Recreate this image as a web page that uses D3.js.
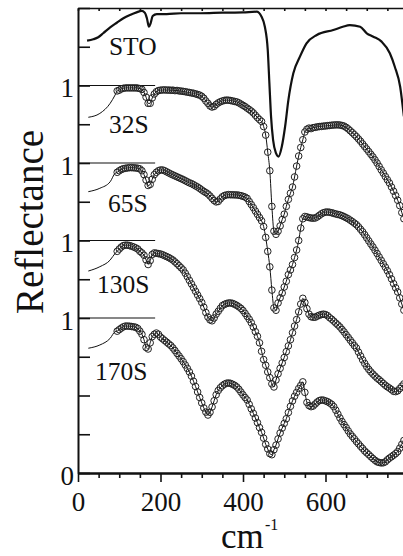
<!DOCTYPE html>
<html>
<head>
<meta charset="utf-8">
<script src="https://cdn.jsdelivr.net/npm/d3@7"></script>
<style>
  body { margin: 0; background: #fff; }
</style>
</head>
<body>
<svg width="403" height="556"></svg>
<script>
// sampled spectra: reflectance every 5 cm-1 from 95 to 790
const waveStart = 95;
const waveStep = 5;

const r32S = [
  0.965, 0.97, 0.978, 0.982, 0.984, 0.985, 0.984, 0.985, 0.984, 0.985,
  0.983, 0.98, 0.975, 0.955, 0.925, 0.885, 0.885, 0.92, 0.945, 0.96,
  0.967, 0.97, 0.971, 0.972, 0.97, 0.971, 0.969, 0.97, 0.967, 0.968,
  0.965, 0.964, 0.962, 0.96, 0.957, 0.955, 0.952, 0.95, 0.946, 0.942,
  0.938, 0.93, 0.918, 0.9, 0.885, 0.868, 0.861, 0.865, 0.878, 0.888,
  0.895, 0.9, 0.904, 0.906, 0.905, 0.903, 0.9, 0.897, 0.894, 0.888,
  0.88, 0.872, 0.864, 0.854, 0.845, 0.835, 0.823, 0.808, 0.793, 0.78,
  0.768, 0.735, 0.68, 0.57, 0.45, 0.22, 0.06, 0.04, 0.06, 0.094,
  0.135, 0.17, 0.22, 0.265, 0.305, 0.345, 0.41, 0.48, 0.545, 0.6,
  0.65, 0.7, 0.718, 0.725, 0.722, 0.728, 0.73, 0.733, 0.735, 0.736,
  0.738, 0.739, 0.741, 0.742, 0.744, 0.745, 0.746, 0.746, 0.745, 0.742,
  0.738, 0.73, 0.72, 0.708, 0.696, 0.683, 0.67, 0.655, 0.64, 0.623,
  0.606, 0.59, 0.573, 0.556, 0.539, 0.52, 0.5, 0.478, 0.456, 0.435,
  0.413, 0.392, 0.371, 0.345, 0.318, 0.29, 0.26, 0.225, 0.18, 0.14
];

const r65S = [
  0.94, 0.95, 0.958, 0.963, 0.966, 0.968, 0.97, 0.97, 0.969, 0.968,
  0.966, 0.962, 0.95, 0.925, 0.89, 0.855, 0.862, 0.895, 0.925, 0.94,
  0.95, 0.955, 0.955, 0.95, 0.943, 0.936, 0.929, 0.923, 0.917, 0.911,
  0.905, 0.899, 0.893, 0.886, 0.879, 0.872, 0.867, 0.86, 0.852, 0.845,
  0.836, 0.826, 0.817, 0.809, 0.8, 0.787, 0.772, 0.758, 0.749, 0.752,
  0.768, 0.782, 0.79, 0.794, 0.796, 0.795, 0.795, 0.794, 0.794, 0.792,
  0.789, 0.785, 0.78, 0.772, 0.752, 0.732, 0.712, 0.69, 0.669, 0.648,
  0.627, 0.59, 0.52, 0.43, 0.33, 0.18, 0.065, 0.05, 0.097, 0.13,
  0.161, 0.2, 0.237, 0.28, 0.31, 0.345, 0.39, 0.439, 0.5, 0.58,
  0.64, 0.655, 0.652, 0.648, 0.645, 0.644, 0.645, 0.652, 0.662, 0.672,
  0.679, 0.683, 0.684, 0.682, 0.679, 0.675, 0.671, 0.668, 0.665, 0.66,
  0.654, 0.647, 0.64, 0.631, 0.622, 0.612, 0.602, 0.588, 0.572, 0.556,
  0.537, 0.517, 0.497, 0.477, 0.458, 0.437, 0.416, 0.394, 0.372, 0.35,
  0.328, 0.305, 0.28, 0.252, 0.222, 0.195, 0.168, 0.13, 0.09, 0.05
];

const r130S = [
  0.93, 0.945, 0.958, 0.967, 0.97, 0.97, 0.967, 0.963, 0.958, 0.952,
  0.945, 0.93, 0.92, 0.905, 0.875, 0.845, 0.87, 0.91, 0.92, 0.918,
  0.915, 0.913, 0.908, 0.902, 0.896, 0.89, 0.882, 0.874, 0.862, 0.85,
  0.837, 0.824, 0.81, 0.789, 0.767, 0.743, 0.72, 0.696, 0.672, 0.648,
  0.625, 0.6, 0.57, 0.535, 0.506, 0.488, 0.482, 0.5, 0.525, 0.543,
  0.562, 0.58, 0.588, 0.593, 0.597, 0.597, 0.594, 0.588, 0.581, 0.572,
  0.562, 0.548, 0.53, 0.511, 0.492, 0.47, 0.442, 0.412, 0.382, 0.34,
  0.285, 0.232, 0.195, 0.152, 0.115, 0.075, 0.055, 0.1, 0.14, 0.175,
  0.21, 0.245, 0.283, 0.32, 0.36, 0.405, 0.448, 0.49, 0.54, 0.59,
  0.627, 0.6, 0.56, 0.525, 0.508, 0.505, 0.505, 0.512, 0.518, 0.522,
  0.525, 0.522, 0.515, 0.502, 0.492, 0.48, 0.467, 0.455, 0.442, 0.426,
  0.41, 0.392, 0.375, 0.357, 0.34, 0.322, 0.306, 0.28, 0.255, 0.23,
  0.207, 0.186, 0.168, 0.152, 0.138, 0.125, 0.112, 0.102, 0.09, 0.078,
  0.066, 0.056, 0.048, 0.038, 0.027, 0.025, 0.03, 0.045, 0.06, 0.075
];

const r170S = [
  0.915, 0.925, 0.935, 0.943, 0.948, 0.948, 0.947, 0.945, 0.943, 0.94,
  0.932, 0.915, 0.895, 0.86, 0.81, 0.8, 0.84, 0.88, 0.895, 0.903,
  0.895, 0.877, 0.866, 0.855, 0.844, 0.833, 0.822, 0.807, 0.79, 0.772,
  0.755, 0.737, 0.718, 0.697, 0.675, 0.652, 0.625, 0.592, 0.558, 0.523,
  0.487, 0.452, 0.42, 0.393, 0.374, 0.392, 0.426, 0.466, 0.505, 0.532,
  0.55, 0.563, 0.573, 0.579, 0.581, 0.578, 0.572, 0.565, 0.555, 0.54,
  0.522, 0.504, 0.487, 0.471, 0.443, 0.414, 0.385, 0.355, 0.325, 0.293,
  0.262, 0.225, 0.185, 0.155, 0.125, 0.118, 0.15, 0.18, 0.22, 0.258,
  0.29, 0.32, 0.35, 0.39, 0.43, 0.465, 0.495, 0.52, 0.545, 0.565,
  0.588, 0.52, 0.455, 0.435, 0.428, 0.432, 0.445, 0.458, 0.467, 0.471,
  0.47, 0.465, 0.46, 0.452, 0.443, 0.428, 0.405, 0.38, 0.355, 0.332,
  0.312, 0.293, 0.272, 0.252, 0.236, 0.22, 0.203, 0.188, 0.172, 0.158,
  0.142, 0.13, 0.118, 0.105, 0.093, 0.082, 0.072, 0.068, 0.065, 0.066,
  0.072, 0.085, 0.096, 0.105, 0.115, 0.125, 0.138, 0.16, 0.185, 0.21
];

// low-frequency part of the fitted curves (no data points there)
const fitLowWave = [25, 53, 78, 90];
const fit32S = [0.795, 0.82, 0.885, 0.939];
const fit65S = [0.815, 0.837, 0.879, 0.934];
const fit130S = [0.803, 0.831, 0.874, 0.917];
const fit170S = [0.805, 0.826, 0.869, 0.912];

// STO substrate, solid curve
const stoWave = [22, 37, 49, 61, 78, 94, 110, 126, 142, 154, 162, 167, 172, 176, 181, 191,
  215, 250, 296, 350, 400, 433, 445, 453, 460, 464, 468, 473, 480, 486, 494, 502, 510,
  522, 538, 554, 579, 619, 642, 659, 684, 700, 716, 736, 756, 768, 781, 790];
const stoR = [0.789, 0.798, 0.811, 0.837, 0.875, 0.905, 0.934, 0.955, 0.972, 0.981, 0.97, 0.934,
  0.879, 0.901, 0.948, 0.961, 0.961, 0.966, 0.966, 0.97, 0.972, 0.976, 0.944, 0.879, 0.729,
  0.514, 0.299, 0.148, 0.063, 0.041, 0.105, 0.234, 0.406, 0.579, 0.686, 0.772, 0.826, 0.858,
  0.879, 0.89, 0.879, 0.837, 0.815, 0.783, 0.708, 0.621, 0.492, 0.3];

const sampleNames = ["STO", "32S", "65S", "130S", "170S"];
const sampleOffsets = [2.0, 1.5, 1.0, 0.5, 0];

const yTicks = [0, 0.25, 0.5, 0.75, 1, 1.25, 1.5, 1.75, 2, 2.25, 2.5, 2.75, 3];
const yLabelValues = [0, 1, 1.5, 2, 2.5];
const yLabelText = ["0", "1", "1", "1", "1"];
const xMajorTicks = [0, 200, 400, 600];
const xMinorTicks = [50, 100, 150, 250, 300, 350, 450, 500, 550, 650, 700, 750];
const xAllTicks = [0, 50, 100, 150, 200, 250, 300, 350, 400, 450, 500, 550, 600, 650, 700, 750, 800];

const FONT = "'Liberation Serif', 'Times New Roman', Times, serif";

const svg = d3.select("svg").attr("font-family", FONT);
const plotLeft = 78, plotRight = 408, plotTop = 8, plotBottom = 473;

const x = d3.scaleLinear().domain([0, 800]).range([plotLeft, plotRight]);
const y = d3.scaleLinear().domain([0, 3]).range([plotBottom, plotTop]);

svg.append("clipPath").attr("id", "plot")
  .append("rect").attr("x", plotLeft).attr("y", plotTop)
  .attr("width", plotRight - plotLeft).attr("height", plotBottom - plotTop);

const plot = svg.append("g").attr("clip-path", "url(#plot)");

// reference lines at R = 1 of each offset film
[1.5, 1.0, 0.5, 0].forEach(off => {
  plot.append("line")
    .attr("x1", x(0)).attr("x2", x(187))
    .attr("y1", y(off + 1)).attr("y2", y(off + 1))
    .attr("stroke", "#111").attr("stroke-width", 1.2);
});

const line = d3.line().x(d => x(d[0])).y(d => y(d[1])).curve(d3.curveMonotoneX);

// STO
plot.append("path")
  .datum(stoWave.map((w, i) => [w, stoR[i] + sampleOffsets[0]]))
  .attr("d", line)
  .attr("fill", "none")
  .attr("stroke", "#111")
  .attr("stroke-width", 2.2)
  .attr("stroke-linejoin", "round");

// films: fit line + open circles
const films = [
  { vals: r32S, fit: fit32S, off: sampleOffsets[1] },
  { vals: r65S, fit: fit65S, off: sampleOffsets[2] },
  { vals: r130S, fit: fit130S, off: sampleOffsets[3] },
  { vals: r170S, fit: fit170S, off: sampleOffsets[4] }
];

films.forEach(f => {
  const pts = f.vals.map((v, i) => [waveStart + i * waveStep, v + f.off]);
  const fitPts = fitLowWave.map((w, i) => [w, f.fit[i] + f.off]).concat(pts);

  plot.append("path")
    .datum(fitPts)
    .attr("d", line)
    .attr("fill", "none")
    .attr("stroke", "#111")
    .attr("stroke-width", 1);

  plot.append("g").selectAll("circle")
    .data(pts)
    .enter()
    .append("circle")
    .attr("cx", d => x(d[0]))
    .attr("cy", d => y(d[1]))
    .attr("r", 3.3)
    .attr("fill", "none")
    .attr("stroke", "#222")
    .attr("stroke-width", 1);
});

// axes
const styleAxis = (g, w) => {
  g.attr("font-family", FONT);
  g.select(".domain").attr("stroke", "#111").attr("stroke-width", w);
  g.selectAll(".tick line").attr("stroke", "#111").attr("stroke-width", 1.6);
  g.selectAll("text").attr("fill", "#111").attr("font-family", FONT);
};

svg.append("g")
  .attr("transform", `translate(0,${plotTop})`)
  .call(d3.axisTop(x).tickValues(xAllTicks).tickSize(-3).tickSizeOuter(0).tickFormat(""))
  .call(g => styleAxis(g, 1.5));

svg.append("g")
  .attr("transform", `translate(0,${plotBottom})`)
  .call(d3.axisBottom(x).tickValues(xMinorTicks).tickSize(5).tickSizeOuter(0).tickFormat(""))
  .call(g => styleAxis(g, 2));

svg.append("g")
  .attr("transform", `translate(0,${plotBottom})`)
  .call(d3.axisBottom(x).tickValues(xMajorTicks).tickSize(9).tickSizeOuter(0).tickPadding(10))
  .call(g => styleAxis(g, 2))
  .call(g => g.selectAll("text").attr("font-size", 27));

svg.append("g")
  .attr("transform", `translate(${plotLeft},0)`)
  .call(d3.axisLeft(y).tickValues(yTicks).tickSize(-12).tickSizeOuter(0).tickPadding(4)
    .tickFormat(d => {
      const k = yLabelValues.indexOf(d);
      return k < 0 ? "" : yLabelText[k];
    }))
  .call(g => styleAxis(g, 2))
  .call(g => g.selectAll("text").attr("font-size", 27).attr("dy", "0.42em"));

// sample labels
const labelWave = [75, 75, 73, 46, 41];
const labelPos = [2.697, 2.194, 1.684, 1.161, 0.6];
svg.append("g").selectAll("text")
  .data(sampleNames)
  .enter()
  .append("text")
  .attr("x", (d, i) => x(labelWave[i]))
  .attr("y", (d, i) => y(labelPos[i]))
  .attr("font-family", FONT)
  .attr("font-size", 25.5)
  .attr("fill", "#111")
  .text(d => d);

// axis titles
svg.append("text")
  .attr("transform", "translate(43,222) rotate(-90)")
  .attr("text-anchor", "middle")
  .attr("font-family", FONT)
  .attr("font-size", 39)
  .attr("fill", "#111")
  .text("Reflectance");

svg.append("text")
  .attr("x", 221)
  .attr("y", 548)
  .attr("font-family", FONT)
  .attr("font-size", 35)
  .attr("fill", "#111")
  .text("cm");

svg.append("text")
  .attr("x", 265)
  .attr("y", 530)
  .attr("font-family", FONT)
  .attr("font-size", 16)
  .attr("fill", "#111")
  .text("-1");
</script>
</body>
</html>
